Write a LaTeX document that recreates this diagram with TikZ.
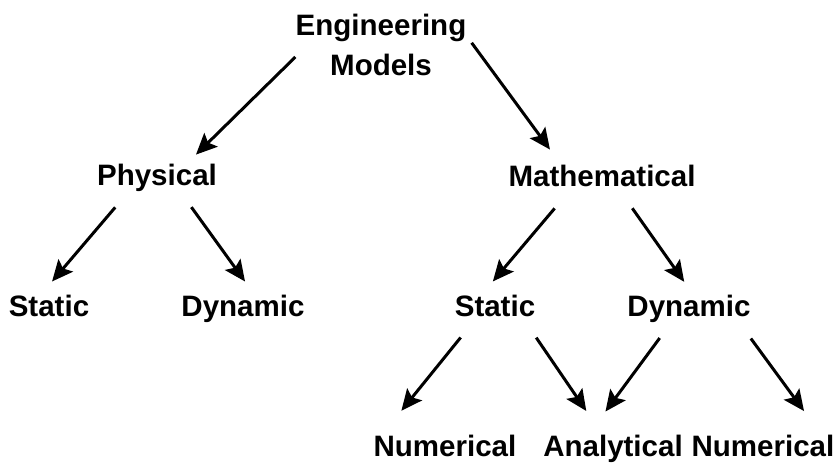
\documentclass[tikz,border=0pt]{standalone}
\usepackage{fontspec}
\setmainfont{Liberation Sans}
\usetikzlibrary{arrows.meta}

\begin{document}
\begin{tikzpicture}[x=0.02cm,y=-0.02cm,
  lbl/.style={inner sep=0pt,font=\bfseries\fontsize{16.8}{22.5}\selectfont},
  word/.style={lbl,anchor=base,text height=0.44cm,text depth=0.12cm},
  arr/.style={-{Stealth[length=0.42cm,width=0.38cm,inset=0.08cm]},line width=0.06cm}]
\useasboundingbox (0,0) rectangle (838,466);
% levels
\node[lbl,align=center,anchor=north] (EM) at (381,14) {Engineering\\Models};
\node[word] (Phy) at (157,185) {Physical};
\node[word] (Mat) at (602,186) {Mathematical};
\node[word] (PS) at (49,316) {Static};
\node[word] (PD) at (243,316) {Dynamic};
\node[word] (MS) at (495,316) {Static};
\node[word] (MD) at (689,316) {Dynamic};
\node[word] (N1) at (445,456) {Numerical};
\node[word] (An) at (613,456) {Analytical};
\node[word] (N2) at (763,456) {Numerical};
% arrows: from/anchor/to/anchor/shorten</shorten>
\foreach \from/\a/\to/\b/\s/\e in {EM/188/Phy/25/0/0.23, EM/6/Mat/161/0.17/0.35,
  Phy/207/PS/117/0.42/0.32, Phy/328/PD/53/0.39/0.30,
  Mat/203/MS/131/0.42/0.32, Mat/323/MD/76/0.39/0.29,
  MS/213/N1/167/0.39/0.59, MS/335/An/128/0.37/0.55,
  MD/219/An/149/0.39/0.55, MD/344/N2/14/0.40/0.56}{
  \draw[arr,shorten <=\s cm,shorten >=\e cm] (\from.\a) -- (\to.\b);}
\end{tikzpicture}
\end{document}
